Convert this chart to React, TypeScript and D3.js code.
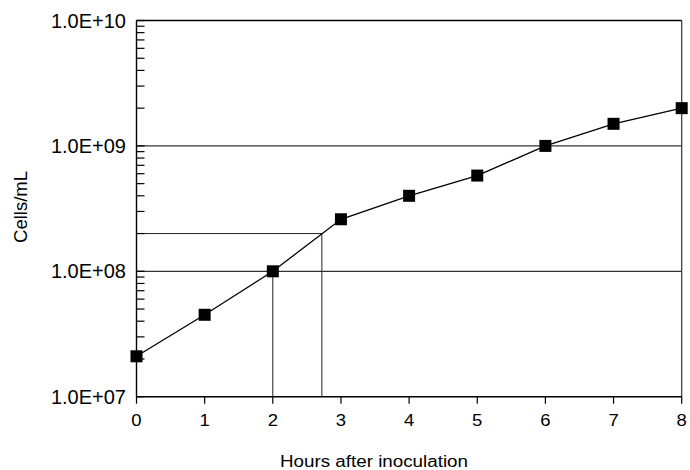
import React from "react";
import { scaleLinear, scaleLog, line } from "d3";

// growth curve
const hours = [0, 1, 2, 3, 4, 5, 6, 7, 8];
const cellsPerML = [2.1e7, 4.5e7, 1.0e8, 2.6e8, 4.0e8, 5.8e8, 1.0e9, 1.5e9, 2.0e9];

const xTicks = [0, 1, 2, 3, 4, 5, 6, 7, 8];
const yDecades = [1e7, 1e8, 1e9, 1e10];
const yTickLabels = ["1.0E+07", "1.0E+08", "1.0E+09", "1.0E+10"];
const gridValues = [1e8, 1e9];

// doubling-time guide lines
const refHours = [2, 2.72];
const refCells = [1e8, 2e8];

const W = 690;
const H = 470;
const left = 136.5;
const right = 681.7;
const top = 20.5;
const bottom = 396.7;
const font = "'Liberation Sans', Arial, Helvetica, sans-serif";

export default function App() {
  const x = scaleLinear().domain([0, 8]).range([left, right]);
  const y = scaleLog().domain([1e7, 1e10]).range([bottom, top]);

  const pts = hours.map((h, i) => [h, cellsPerML[i]] as [number, number]);
  const path = line<[number, number]>()
    .x(d => x(d[0]))
    .y(d => y(d[1]))(pts);

  const minor = y.ticks().filter(v => v >= 1e7 && v <= 1e10);

  return (
    <div style={{ position: "absolute", left: 0, top: 0 }}>
      <svg width={W} height={H} style={{ display: "block", background: "#fff" }}>
        {/* grid lines at decades */}
        {gridValues.map(v => (
          <line key={v} x1={left} x2={right} y1={y(v)} y2={y(v)} stroke="#333" strokeWidth={1.2} />
        ))}

        {/* reference lines */}
        <line x1={left} x2={x(refHours[1])} y1={y(refCells[1])} y2={y(refCells[1])} stroke="#222" strokeWidth={1} />
        <line x1={x(refHours[0])} x2={x(refHours[0])} y1={bottom} y2={y(refCells[0])} stroke="#222" strokeWidth={1} />
        <line x1={x(refHours[1])} x2={x(refHours[1])} y1={bottom} y2={y(refCells[1])} stroke="#222" strokeWidth={1} />

        {/* minor ticks pointing in */}
        {minor.map(v => (
          <line key={v} x1={left} x2={left + 8} y1={y(v)} y2={y(v)} stroke="#000" strokeWidth={1.2} />
        ))}

        {/* frame */}
        <line x1={left} x2={right} y1={top} y2={top} stroke="#000" strokeWidth={1.4} />
        <line x1={right} x2={right} y1={top} y2={bottom} stroke="#333" strokeWidth={1.2} />
        <line x1={left} x2={left} y1={top} y2={bottom} stroke="#000" strokeWidth={1.4} />
        <line x1={left} x2={right} y1={bottom} y2={bottom} stroke="#000" strokeWidth={1.4} />

        {/* x ticks & labels */}
        {xTicks.map(t => (
          <g key={t}>
            <line x1={x(t)} x2={x(t)} y1={bottom} y2={bottom + 7} stroke="#000" strokeWidth={1.2} />
            <text x={x(t)} y={426.5} textAnchor="middle" fontFamily={font} fontSize={16.5}
              transform={`translate(${x(t)},0) scale(1.12,1) translate(${-x(t)},0)`}>
              {t}
            </text>
          </g>
        ))}

        {/* y labels */}
        {yDecades.map((v, i) => (
          <text key={v} x={126} y={y(v) + 7} textAnchor="end" fontFamily={font} fontSize={20}>
            {yTickLabels[i]}
          </text>
        ))}

        {/* series */}
        <path d={path ?? ""} fill="none" stroke="#000" strokeWidth={1.3} />
        {pts.map(d => (
          <rect key={d[0]} x={x(d[0]) - 6} y={y(d[1]) - 6} width={12} height={12} fill="#000" />
        ))}

        {/* axis titles */}
        <text x={374} y={467} textAnchor="middle" fontFamily={font} fontSize={16}
          textLength={188} lengthAdjust="spacingAndGlyphs">
          Hours after inoculation
        </text>
        <text transform="translate(27,207) rotate(-90)" textAnchor="middle" fontFamily={font} fontSize={18.5}>
          Cells/mL
        </text>
      </svg>
    </div>
  );
}
